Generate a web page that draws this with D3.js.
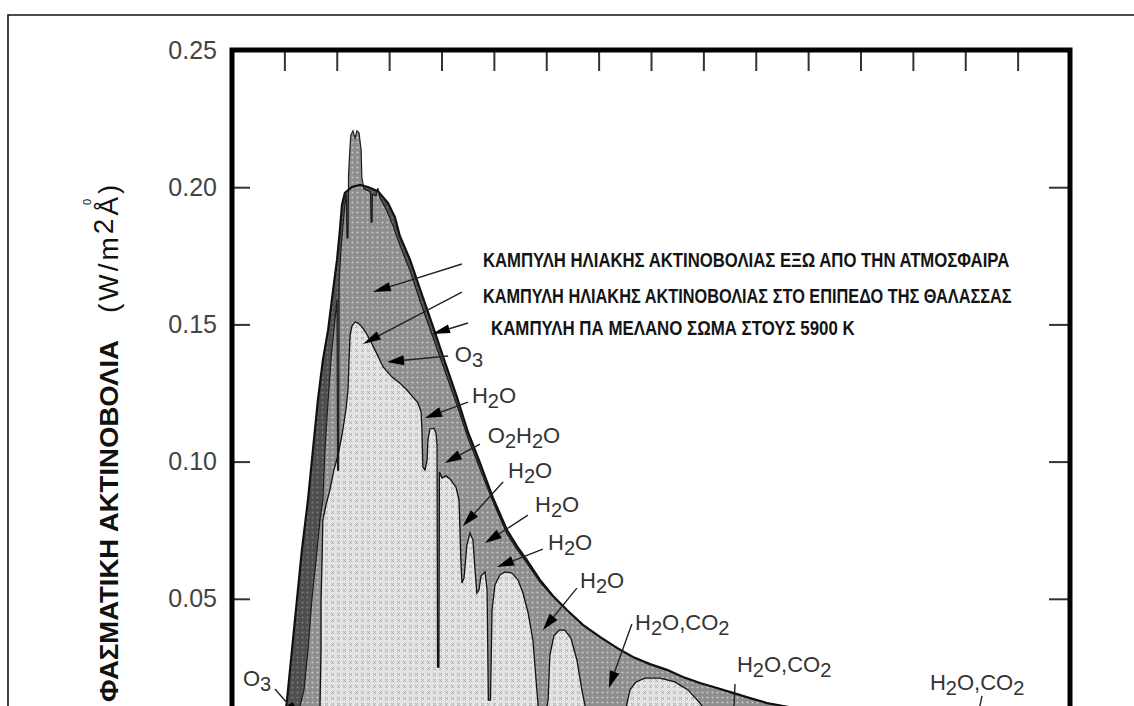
<!DOCTYPE html>
<html>
<head>
<meta charset="utf-8">
<script src="https://cdn.jsdelivr.net/npm/d3@7"></script>
<style>
  body { margin: 0; background: #fff; }
  svg { display: block; }
</style>
</head>
<body>
<svg id="chart" width="1134" height="706"></svg>
<script>
// Spectral irradiance curves: [wavelength (μm), irradiance (W/m²Å)]
const blackbody5900 = [
  [0.195,0],[0.210,0.0131],[0.229,0.0313],[0.248,0.0496],[0.267,0.0678],
  [0.290,0.0860],[0.309,0.1042],[0.328,0.1224],[0.347,0.1370],[0.367,0.1480],
  [0.386,0.1625],[0.401,0.1735],[0.412,0.1844],[0.420,0.1935],[0.431,0.1979],
  [0.458,0.2001],[0.489,0.2008],[0.519,0.2001],[0.557,0.1986],[0.596,0.1942],
  [0.622,0.1891],[0.641,0.1822],[0.680,0.1735],[0.718,0.1629],[0.767,0.1494],
  [0.813,0.1363],[0.859,0.1235],[0.901,0.1108],[0.947,0.0995],[0.997,0.0867],
  [1.050,0.0751],[1.088,0.0692],[1.126,0.0641],[1.176,0.0569],[1.226,0.0510],
  [1.279,0.0459],[1.340,0.0405],[1.405,0.0361],[1.470,0.0321],[1.531,0.0288],
  [1.596,0.0262],[1.661,0.0241],[1.722,0.0215],[1.787,0.0193],[1.852,0.0175],
  [1.913,0.0157],[1.978,0.0138],[2.043,0.0120],[2.169,0.0098],[2.360,0.0077],
  [2.551,0.0062],[2.742,0.0051],[2.932,0.0040],[3.200,0.0029]
];

const outsideAtmosphere = [
  [0.244,0],[0.260,0.0109],[0.275,0.0168],[0.290,0.0313],[0.305,0.0496],
  [0.321,0.0641],[0.336,0.0787],[0.347,0.0860],[0.355,0.1042],[0.367,0.1224],
  [0.378,0.1370],[0.389,0.1480],[0.397,0.1552],[0.401,0.1589],[0.403,0.0969],
  [0.407,0.0969],[0.409,0.1662],[0.416,0.1771],[0.424,0.1862],[0.431,0.1935],
  [0.437,0.1972],[0.439,0.1815],[0.443,0.1815],[0.445,0.2044],[0.451,0.2154],
  [0.454,0.2190],[0.462,0.2205],[0.470,0.2179],[0.477,0.2205],[0.485,0.2198],
  [0.493,0.2136],[0.496,0.2034],[0.504,0.1993],[0.523,0.1986],[0.529,0.1979],
  [0.531,0.1873],[0.535,0.1873],[0.536,0.1975],[0.550,0.1968],[0.557,0.1997],
  [0.565,0.1961],[0.588,0.1921],[0.615,0.1859],[0.641,0.1789],[0.680,0.1695],
  [0.718,0.1585],[0.767,0.1454],[0.813,0.1330],[0.859,0.1206],[0.901,0.1086],
  [0.947,0.0973],[0.997,0.0853],[1.050,0.0736],[1.088,0.0681],[1.126,0.0630],
  [1.176,0.0561],[1.226,0.0507],[1.279,0.0459],[1.340,0.0405],[1.405,0.0361],
  [1.470,0.0321],[1.531,0.0288],[1.596,0.0262],[1.661,0.0241],[1.722,0.0215],
  [1.787,0.0193],[1.852,0.0175],[1.913,0.0157],[1.978,0.0138],[2.043,0.0120],
  [2.169,0.0098],[2.360,0.0077],[2.551,0.0062],[2.742,0.0051],[2.932,0.0040],
  [3.200,0.0029]
];

const seaLevel = [
  [0.321,0],[0.336,0.0109],[0.340,0.0313],[0.340,0.0496],[0.344,0.0641],
  [0.347,0.0787],[0.359,0.0842],[0.374,0.0897],[0.389,0.0969],[0.405,0.1024],
  [0.420,0.1097],[0.435,0.1188],[0.443,0.1261],[0.447,0.1370],[0.451,0.1461],
  [0.458,0.1494],[0.470,0.1509],[0.481,0.1505],[0.496,0.1491],[0.512,0.1469],
  [0.527,0.1443],[0.550,0.1399],[0.577,0.1345],[0.611,0.1308],[0.641,0.1286],
  [0.668,0.1261],[0.691,0.1235],[0.710,0.1214],[0.722,0.1181],[0.725,0.1122],
  [0.729,0.0980],[0.737,0.0969],[0.745,0.1006],[0.748,0.1079],[0.756,0.1119],
  [0.771,0.1122],[0.779,0.1104],[0.783,0.1060],[0.785,0.0251],[0.790,0.0251],
  [0.792,0.0962],[0.802,0.0940],[0.817,0.0948],[0.832,0.0937],[0.855,0.0907],
  [0.867,0.0860],[0.874,0.0641],[0.878,0.0558],[0.886,0.0576],[0.897,0.0696],
  [0.909,0.0740],[0.920,0.0714],[0.928,0.0605],[0.935,0.0521],[0.943,0.0532],
  [0.951,0.0583],[0.966,0.0598],[0.974,0.0532],[0.979,0.0131],[0.987,0.0131],
  [0.993,0.0459],[1.004,0.0550],[1.023,0.0587],[1.042,0.0598],[1.069,0.0594],
  [1.092,0.0569],[1.111,0.0521],[1.130,0.0452],[1.149,0.0350],[1.161,0.0204],
  [1.172,0.0077],[1.191,0.0051],[1.207,0.0131],[1.214,0.0295],[1.229,0.0364],
  [1.249,0.0386],[1.271,0.0386],[1.294,0.0357],[1.317,0.0277],[1.336,0.0168],
  [1.355,0.0077],[1.386,0.0022],[1.462,0.0015],[1.501,0.0087],[1.520,0.0168],
  [1.543,0.0197],[1.577,0.0211],[1.634,0.0211],[1.691,0.0197],[1.741,0.0168],
  [1.787,0.0120],[1.825,0.0066],[1.863,0.0011],[1.959,0.0007],[2.016,0.0044],
  [2.131,0.0058],[2.283,0.0055],[2.436,0.0036],[2.551,0.0015],[2.742,0.0004],
  [2.894,0.0018],[3.085,0.0011],[3.200,0.0007]
];

// Axis ticks
const yTickValues = [0.05, 0.10, 0.15, 0.20, 0.25];
const yInnerTicks = [0.05, 0.10, 0.15, 0.20];
const xTickValues = [0.2,0.4,0.6,0.8,1.0,1.2,1.4,1.6,1.8,2.0,2.2,2.4,2.6,2.8,3.0];

// Curve captions and their pointers (data coordinates)
const curveLabels = [
  "ΚΑΜΠΥΛΗ ΗΛΙΑΚΗΣ ΑΚΤΙΝΟΒΟΛΙΑΣ ΕΞΩ ΑΠΟ ΤΗΝ ΑΤΜΟΣΦΑΙΡΑ",
  "ΚΑΜΠΥΛΗ ΗΛΙΑΚΗΣ ΑΚΤΙΝΟΒΟΛΙΑΣ ΣΤΟ ΕΠΙΠΕΔΟ ΤΗΣ ΘΑΛΑΣΣΑΣ",
  "ΚΑΜΠΥΛΗ ΠΑ ΜΕΛΑΝΟ ΣΩΜΑ ΣΤΟΥΣ 5900 Κ"
];
const curveLabelAt = [[0.958,0.1709],[0.958,0.1578],[0.989,0.1461]];
const curveArrowFrom = [[0.878,0.1720],[0.878,0.1618],[0.901,0.1505]];
const curveArrowTo = [[0.538,0.1618],[0.500,0.1429],[0.764,0.1465]];

// Absorbing gases and their pointers (data coordinates)
const gasLabels = ["O3","H2O","O2H2O","H2O","H2O","H2O","H2O","H2O,CO2","H2O,CO2","H2O,CO2","O3"];
const gasLabelAt = [[0.851,0.1363],[0.916,0.1214],[0.977,0.1068],[1.054,0.0940],[1.157,0.0816],
  [1.207,0.0678],[1.329,0.0539],[1.539,0.0386],[1.928,0.0233],[2.665,0.0168],[0.042,0.0182]];
const gasArrowFrom = [[0.825,0.1385],[0.901,0.1217],[0.947,0.1064],[1.035,0.0926],[1.130,0.0805],
  [1.187,0.0681],[1.317,0.0539],[1.527,0.0408],[1.921,0.0190],[2.864,0.0146],[0.164,0.0171]];
const gasArrowTo = [[0.592,0.1363],[0.737,0.1159],[0.813,0.0995],[0.882,0.0765],[0.966,0.0703],
  [1.012,0.0616],[1.187,0.0386],[1.439,0.0175],[1.913,0.0040],[2.841,0.0040],[0.260,0.0066]];

// ---------------------------------------------------------------
const svg = d3.select("#chart");
const FONT = "'Liberation Sans', Arial, sans-serif";
const x = d3.scaleLinear().domain([0, 3.2]).range([232, 1070]);
const y = d3.scaleLinear().domain([0, 0.25]).range([736, 50]);

const defs = svg.append("defs");
defs.append("clipPath").attr("id", "plotClip")
  .append("rect").attr("x", 232).attr("y", 50).attr("width", 838).attr("height", 686);

// texture for the sea-level area: small crosses on light grey
const pLight = defs.append("pattern").attr("id", "texLight")
  .attr("patternUnits", "userSpaceOnUse").attr("width", 6).attr("height", 6);
pLight.append("rect").attr("width", 6).attr("height", 6).attr("fill", "#e3e3e3");
pLight.append("path").attr("d", "M1,1L4,4M4,1L1,4")
  .attr("stroke", "#a9a9a9").attr("stroke-width", 0.9);

// texture for the extraterrestrial area: light dots on mid grey
const pMid = defs.append("pattern").attr("id", "texMid")
  .attr("patternUnits", "userSpaceOnUse").attr("width", 5).attr("height", 5);
pMid.append("rect").attr("width", 5).attr("height", 5).attr("fill", "#8e8e8e");
pMid.append("circle").attr("cx", 2.5).attr("cy", 2.5).attr("r", 1.1).attr("fill", "#c6c6c6");

// texture for the black-body excess: dots on dark grey
const pDark = defs.append("pattern").attr("id", "texDark")
  .attr("patternUnits", "userSpaceOnUse").attr("width", 5).attr("height", 5);
pDark.append("rect").attr("width", 5).attr("height", 5).attr("fill", "#4e4e4e");
pDark.append("circle").attr("cx", 2.5).attr("cy", 2.5).attr("r", 1.0).attr("fill", "#7c7c7c");

// outer border
svg.append("path").attr("d", "M8,720V15H1140")
  .attr("fill", "none").attr("stroke", "#111").attr("stroke-width", 1.6);

// spectral areas
const area = d3.area().x(d => x(d[0])).y0(y(0)).y1(d => y(d[1]));
const line = d3.line().x(d => x(d[0])).y(d => y(d[1]));
const plot = svg.append("g").attr("clip-path", "url(#plotClip)");

plot.append("path").datum(blackbody5900).attr("d", area).attr("fill", "url(#texDark)");
plot.append("path").datum(outsideAtmosphere).attr("d", area).attr("fill", "url(#texMid)");
plot.append("path").datum(seaLevel).attr("d", area).attr("fill", "url(#texLight)");

plot.append("path").datum(outsideAtmosphere).attr("d", line)
  .attr("fill", "none").attr("stroke", "#1c1c1c").attr("stroke-width", 1.2);
plot.append("path").datum(seaLevel).attr("d", line)
  .attr("fill", "none").attr("stroke", "#111").attr("stroke-width", 1.3);
plot.append("path").datum(blackbody5900).attr("d", line)
  .attr("fill", "none").attr("stroke", "#111").attr("stroke-width", 2.2);

// axes (ticks pointing into the frame)
function styleAxis(g) {
  g.select(".domain").remove();
  g.selectAll(".tick line").attr("stroke", "#333").attr("stroke-width", 2);
}
svg.append("g").attr("transform", "translate(232,0)")
  .call(d3.axisLeft(y).tickValues(yTickValues).tickFormat(d3.format(".2f"))
    .tickSizeInner(-18).tickSizeOuter(0).tickPadding(15))
  .call(styleAxis)
  .call(g => g.selectAll(".tick text").attr("font-family", FONT)
    .attr("font-size", 25).attr("fill", "#444"));
svg.append("g").attr("transform", "translate(1070,0)")
  .call(d3.axisRight(y).tickValues(yInnerTicks).tickFormat("")
    .tickSizeInner(-21).tickSizeOuter(0))
  .call(styleAxis);
svg.append("g").attr("transform", "translate(0,50)")
  .call(d3.axisTop(x).tickValues(xTickValues).tickFormat("")
    .tickSizeInner(-21).tickSizeOuter(0))
  .call(styleAxis);

// plot frame
svg.append("rect").attr("x", 232).attr("y", 50).attr("width", 838).attr("height", 700)
  .attr("fill", "none").attr("stroke", "#000").attr("stroke-width", 5);

// y-axis title
svg.append("text").attr("transform", "translate(118,340) rotate(-90)")
  .attr("text-anchor", "end").attr("font-family", FONT).attr("font-weight", "bold")
  .attr("font-size", 25).attr("fill", "#111")
  .attr("textLength", 362).attr("lengthAdjust", "spacingAndGlyphs")
  .text("ΦΑΣΜΑΤΙΚΗ ΑΚΤΙΝΟΒΟΛΙΑ");
const unit = svg.append("text").attr("transform", "translate(118,313) rotate(-90)")
  .attr("font-family", FONT).attr("font-size", 28).attr("fill", "#111")
  .attr("letter-spacing", 3);
unit.append("tspan").text("(W/m");
unit.append("tspan").attr("dy", -5).text("2");
unit.append("tspan").attr("dy", 5).text("Å)");
svg.append("text").attr("transform", "translate(91,202) rotate(-90)")
  .attr("text-anchor", "middle").attr("font-family", FONT).attr("font-size", 11)
  .attr("fill", "#111").text("0");

// pointer with a filled arrow head
const notes = svg.append("g");
function pointer(from, to, head, half) {
  const p0 = [x(from[0]), y(from[1])], p1 = [x(to[0]), y(to[1])];
  const dx = p1[0] - p0[0], dy = p1[1] - p0[1], len = Math.hypot(dx, dy);
  const ux = dx / len, uy = dy / len;
  const bx = p1[0] - ux * head, by = p1[1] - uy * head;
  notes.append("line").attr("x1", p0[0]).attr("y1", p0[1]).attr("x2", bx).attr("y2", by)
    .attr("stroke", "#222").attr("stroke-width", 1.4);
  notes.append("path")
    .attr("d", `M${p1[0]},${p1[1]}L${bx - uy * half},${by + ux * half}L${bx + uy * half},${by - ux * half}Z`)
    .attr("fill", "#000");
}

// curve captions, squeezed horizontally to a narrow bold face
const captionWidths = [527, 529, 364];
curveLabels.forEach((t, i) => {
  const px = x(curveLabelAt[i][0]), py = y(curveLabelAt[i][1]);
  const cap = notes.append("text").attr("x", 0).attr("y", 0)
    .attr("font-family", FONT).attr("font-weight", "bold").attr("font-size", 21)
    .attr("fill", "#141414").text(t);
  const natural = cap.node().getComputedTextLength();
  cap.attr("transform", `translate(${px},${py}) scale(${captionWidths[i] / natural},1)`);
  pointer(curveArrowFrom[i], curveArrowTo[i], 18, 4.5);
});

// gas labels with lowered digits
gasLabels.forEach((t, i) => {
  const txt = notes.append("text").attr("x", x(gasLabelAt[i][0])).attr("y", y(gasLabelAt[i][1]))
    .attr("font-family", FONT).attr("font-size", 22).attr("fill", "#333");
  let lowered = false;
  for (const ch of t) {
    const digit = /[0-9]/.test(ch);
    const ts = txt.append("tspan").text(ch);
    if (digit) {
      ts.attr("font-size", 20);
      if (!lowered) { ts.attr("dy", 5); lowered = true; }
    } else if (lowered) {
      ts.attr("dy", -5); lowered = false;
    }
  }
  pointer(gasArrowFrom[i], gasArrowTo[i], 17, 5);
});
</script>
</body>
</html>
